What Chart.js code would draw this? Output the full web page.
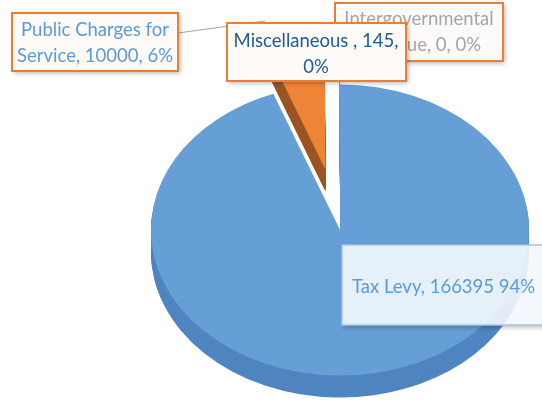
<!DOCTYPE html>
<html>
<head>
<meta charset="utf-8">
<script src="https://cdn.jsdelivr.net/npm/chart.js@4.4.1/dist/chart.umd.min.js"></script>
<style>
  html, body { margin: 0; padding: 0; background: #fff; }
  canvas { display: block; }
</style>
</head>
<body>
<canvas id="revenue-pie" width="542" height="407"></canvas>
<script>
const categories = ['Tax Levy', 'Public Charges for Service', 'Miscellaneous ', 'Intergovernmental Revenue'];
const amounts = [166395, 10000, 145, 0];

const faceColors = ['#669ED6', '#EE8536', '#A5A5A5', '#FFC000'];
const sideColors = ['#4F85C0', '#9C5424', '#7C7C7C', '#BF9000'];
const explode = [0, 80, 80, 0];

const total = amounts.reduce((a, b) => a + b, 0);
const percents = amounts.map((v) => Math.round((v / total) * 100) + '%');

// squash the pie into an ellipse, pull slices out and give it a side
const tilt = 0.77;
const depth = 22;
const faceY = 230;

function drawArcs(ctx, meta, cx, cy, y, colors) {
  meta.data.forEach((arc, i) => {
    const mid = (arc.startAngle + arc.endAngle) / 2;
    ctx.save();
    ctx.translate(cx, y);
    ctx.scale(1, tilt);
    ctx.translate(-cx + Math.cos(mid) * explode[i], -cy + Math.sin(mid) * explode[i]);
    const el = Object.create(arc);
    el.options = Object.assign({}, arc.options, { backgroundColor: colors[i], borderWidth: 0, offset: 0 });
    arc.draw.call(el, ctx);
    ctx.restore();
  });
}

const pie3d = {
  id: 'pie3d',
  beforeDatasetsDraw(chart) {
    const ctx = chart.ctx;
    const meta = chart.getDatasetMeta(0);
    const cx = meta.data[0].x;
    const cy = meta.data[0].y;
    for (let d = depth; d > 0; d--) {
      drawArcs(ctx, meta, cx, cy, faceY + d, sideColors);
    }
    drawArcs(ctx, meta, cx, cy, faceY, faceColors);
    return false;
  },
};

const labelFont = '18.5px Lato';
const boxes = [
  { i: 0, x: 342, y: 245, w: 215, h: 80, fill: 'rgba(244,248,253,0.9)', border: '#A9C5E6', lw: 1.5, color: '#5B9BD5', align: 'left', tx: 352, ty: 287, split: 0 },
  { i: 1, x: 12, y: 13, w: 166, h: 58, fill: '#FDFAF8', border: '#ED7D31', lw: 2, color: '#5B9BD5', align: 'center', tx: 95, ty: 30, split: 3 },
  { i: 3, x: 335, y: 3, w: 168, h: 58, fill: 'rgba(253,250,248,0.85)', border: '#ED7D31', lw: 2, color: '#A5A5A5', align: 'center', tx: 419, ty: 19, split: 1 },
  { i: 2, x: 227, y: 23, w: 179, h: 58, fill: '#FDFAF8', border: '#ED7D31', lw: 2, color: '#235B91', align: 'center', tx: 316, ty: 41, split: 3 },
];

function labelText(i) {
  if (i === 0) return categories[i] + ', ' + amounts[i] + ' ' + percents[i];
  return categories[i] + ', ' + amounts[i] + ', ' + percents[i];
}

const calloutLabels = {
  id: 'calloutLabels',
  afterDraw(chart) {
    const ctx = chart.ctx;
    const W = chart.width;
    const H = chart.height;
    boxes.forEach((b) => {
      if (b.i === 1) {
        // leader line runs under the Miscellaneous box
        ctx.save();
        ctx.strokeStyle = '#A6A6A6';
        ctx.lineWidth = 1;
        ctx.beginPath();
        ctx.moveTo(178, 33);
        ctx.lineTo(265, 21);
        ctx.stroke();
        ctx.restore();
      }
      // shadow only outside the box so see-through boxes stay clean
      ctx.save();
      ctx.beginPath();
      ctx.rect(0, 0, W, H);
      ctx.rect(b.x, b.y, b.w, b.h);
      ctx.clip('evenodd');
      ctx.shadowColor = 'rgba(0,0,0,0.3)';
      ctx.shadowBlur = 5;
      ctx.shadowOffsetX = 2;
      ctx.shadowOffsetY = 2;
      ctx.fillStyle = '#fff';
      ctx.fillRect(b.x, b.y, b.w, b.h);
      ctx.restore();

      ctx.save();
      ctx.fillStyle = b.fill;
      ctx.fillRect(b.x, b.y, b.w, b.h);
      ctx.lineWidth = b.lw;
      ctx.strokeStyle = b.border;
      ctx.strokeRect(b.x, b.y, b.w, b.h);

      const words = labelText(b.i).split(' ');
      const lines = b.split ? [words.slice(0, b.split).join(' '), words.slice(b.split).join(' ')] : [words.join(' ')];
      ctx.font = labelFont;
      ctx.fillStyle = b.color;
      ctx.textAlign = b.align;
      ctx.textBaseline = 'middle';
      lines.forEach((ln, k) => ctx.fillText(ln, b.tx, b.ty + k * 26));
      ctx.restore();
    });
  },
};

new Chart(document.getElementById('revenue-pie'), {
  type: 'pie',
  data: {
    labels: categories,
    datasets: [
      {
        data: amounts,
        backgroundColor: faceColors,
        borderWidth: 0,
        hoverOffset: 0,
        radius: 189,
      },
    ],
  },
  options: {
    responsive: false,
    animation: false,
    events: [],
    layout: { padding: { left: 138 } },
    plugins: {
      legend: { display: false },
      tooltip: { enabled: false },
    },
  },
  plugins: [pie3d, calloutLabels],
});
</script>
</body>
</html>
